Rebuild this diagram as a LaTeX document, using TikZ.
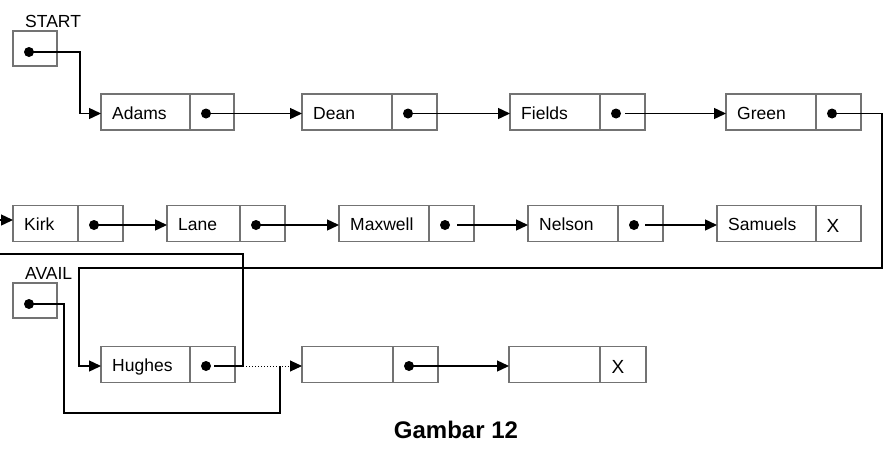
\documentclass[tikz,border=0pt]{standalone}
\usepackage{fontspec}
\setmainfont{Liberation Sans}
\usetikzlibrary{arrows.meta}
\tikzset{
  cell/.style={draw=black!55, line width=1.1pt, minimum height=36pt, inner sep=0pt, outer sep=0pt},
  lbl/.style={inner sep=0pt, font=\fontsize{17.5}{20}\selectfont},
  xlbl/.style={inner sep=0pt, font=\fontsize{19}{22}\selectfont},
  dot/.style={circle, fill=black, minimum size=10pt, inner sep=0pt},
  wire/.style={line width=1.4pt},
  link/.style={line width=1.4pt, -{Triangle[length=12pt,width=11pt]}},
  dotlink/.style={line width=1pt, dotted, -{Triangle[length=12pt,width=11pt]}},
}
\newcommand\mkrec[6]{%
  \node[cell, anchor=west, minimum width=#4pt] (#1) at (#2,#3) {};
  \node[cell, anchor=west, minimum width=#5pt] (#1p) at (#1.east) {};
  \node[lbl, anchor=base west] (#1t) at ([xshift=11pt,yshift=-7pt]#1.west) {#6};
}
\newcommand\mkdot[1]{%
  \node[dot] (#1d) at ([xshift=16pt,yshift=-1.5pt]#1p.west) {};
}
\begin{document}
\begin{tikzpicture}[x=1pt,y=-1pt]
\useasboundingbox (0,0) rectangle (884,450);

% START and AVAIL
\node[cell, minimum width=44pt, minimum height=35pt] (start) at (35,48.5) {};
\node[dot] (startd) at (29,52) {};
\node[lbl, anchor=base west] (startl) at (25,27) {START};
\node[cell, minimum width=44pt, minimum height=35pt] (avail) at (35,300.5) {};
\node[dot] (availd) at (29,304) {};
\node[lbl, anchor=base west] (availl) at (25,279) {AVAIL};

% Row 1
\mkrec{adams}{101}{112}{89}{44}{Adams}
\mkrec{dean}{302}{112}{90}{45}{Dean}
\mkrec{fields}{510}{112}{90}{45}{Fields}
\mkrec{green}{726}{112}{90}{45}{Green}
% Row 2
\mkrec{kirk}{13}{223.5}{65}{45}{Kirk}
\mkrec{lane}{167}{223.5}{73}{45}{Lane}
\mkrec{maxwell}{339}{223.5}{90}{45}{Maxwell}
\mkrec{nelson}{528}{223.5}{90}{45}{Nelson}
\mkrec{samuels}{717}{223.5}{99}{45}{Samuels}
% Row 3
\mkrec{hughes}{101}{364.5}{89}{45}{Hughes}
\mkrec{emptya}{302}{364.5}{91}{45}{}
\mkrec{emptyb}{509}{364.5}{91}{46}{}

\mkdot{adams}\mkdot{dean}\mkdot{fields}\mkdot{green}
\mkdot{kirk}\mkdot{lane}\mkdot{maxwell}\mkdot{nelson}
\mkdot{hughes}\mkdot{emptya}

\node[xlbl, anchor=base] (samx) at ([xshift=-5.5pt,yshift=-8.5pt]samuelsp.center) {X};
\node[xlbl, anchor=base] (emx) at ([xshift=-5pt,yshift=-8.5pt]emptybp.center) {X};

% connectors
\draw[link] (startd.center) -| ([xshift=-21pt,yshift=-1.5pt]adams.west) -- ([yshift=-1.5pt]adams.west);
\draw[link] (adamsd.center) -- (dean.west |- adamsd.center);
\draw[link] (deand.center) -- (fields.west |- deand.center);
\draw[link] ([xshift=9pt]fieldsd.center) -- (green.west |- fieldsd.center);

\coordinate (gr1) at (882,268);
\coordinate (gr2) at (79,268);
\draw[link] (greend.center) -| (gr1) -- (gr2) |- ([yshift=-1.5pt]hughes.west);

\coordinate (offb) at (-5,220);
\draw[link] (offb) -- (kirk.west |- offb);
\draw[link] (kirkd.center) -- (lane.west |- kirkd.center);
\draw[link] (laned.center) -- (maxwell.west |- laned.center);
\draw[link] ([xshift=12pt]maxwelld.center) -- (nelson.west |- maxwelld.center);
\draw[link] ([xshift=11pt]nelsond.center) -- (samuels.west |- nelsond.center);

\coordinate (hj) at (243,366);
\coordinate (offa) at (-5,254);
\draw[wire] ([xshift=8pt]hughesd.center) -- (hj) |- (offa);
\draw[dotlink] (hj) -- ([yshift=-1.5pt]emptya.west);
\draw[link] (emptyad.center) -- (emptyb.west |- emptyad.center);

\coordinate (av0) at (64,413);
\coordinate (av1) at (280,413);
\draw[wire] (availd.center) -| (av0) -- (av1) -- (av1 |- hj);

\node[font=\bfseries\fontsize{24}{28}\selectfont, anchor=base, inner sep=0pt] (cap) at (456,438) {Gambar 12};
\end{tikzpicture}
\end{document}
